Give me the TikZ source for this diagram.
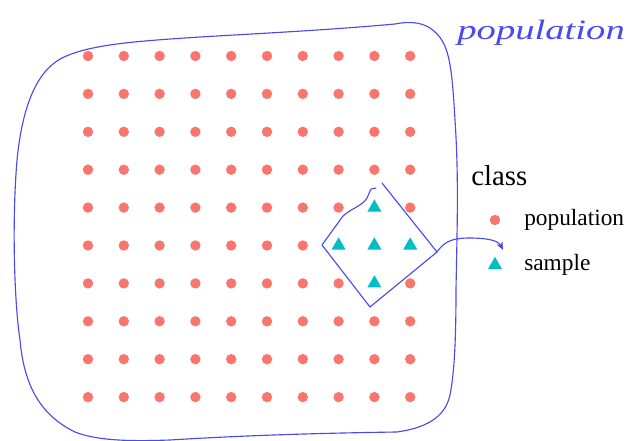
\documentclass[tikz,border=0pt]{standalone}
\usepackage{fontspec}
\setmainfont{Liberation Serif}
\usetikzlibrary{shapes.geometric,arrows.meta}
\definecolor{popred}{HTML}{F8766D}
\definecolor{samcyan}{HTML}{00BFC4}
\definecolor{ink}{HTML}{4A4AF0}
\begin{document}
\begin{tikzpicture}[x=0.75pt,y=-0.75pt,
  popdot/.style={circle,fill=popred,inner sep=0pt,minimum size=7.8pt},
  samtri/.style={regular polygon,regular polygon sides=3,fill=samcyan,inner sep=0pt,minimum size=12.2pt},
  pen/.style={draw=ink,line width=0.85pt,line cap=round,line join=round},
  legtext/.style={anchor=base west,inner sep=0pt,font=\fontsize{17.5}{20}\selectfont}]
\useasboundingbox (0,0) rectangle (636,441);
% population grid
\foreach \i in {1,...,10} {
  \foreach \j in {1,...,10} {
    \pgfmathsetmacro\xx{88+(\i-1)*35.8}
    \pgfmathsetmacro\yy{56+(\j-1)*37.9}
    \pgfmathtruncatemacro\skipit{((\i==9) && (\j>4) && (\j<8)) || ((\j==6) && ((\i==8) || (\i==10)))}
    \ifnum\skipit=0 \node[popdot] (d\i-\j) at (\xx,\yy) {};\fi
  }
}
% sample
\node[samtri] (s1) at (374.4,207.6) {};
\node[samtri] (s2) at (338.6,245.5) {};
\node[samtri] (s3) at (374.4,245.5) {};
\node[samtri] (s4) at (410.2,245.5) {};
\node[samtri] (s5) at (374.4,283.4) {};
% legend
\node[anchor=base west,inner sep=0pt,font=\fontsize{21.6}{24}\selectfont] (legtitle) at (471,186) {class};
\node[popdot] (legdot) at (495,220) {};
\node[legtext] (legpop) at (524,226) {population};
\node[samtri] (legtri) at (495,265) {};
\node[legtext] (legsam) at (524,271) {sample};
% hand-drawn outline of the population
\draw[pen] (395,24) .. controls (330,30) and (250,34) .. (200,37)
  .. controls (140,41) and (90,44) .. (62,58)
  .. controls (35,72) and (22,110) .. (17,160)
  .. controls (12,220) and (14,300) .. (20,340)
  .. controls (24,385) and (40,415) .. (75,432)
  .. controls (100,442) and (140,441) .. (170,440)
  .. controls (250,435) and (330,433) .. (397,432)
  .. controls (425,428) and (445,418) .. (450,395)
  .. controls (455,370) and (456,330) .. (456,290)
  .. controls (457,230) and (459,180) .. (455,120)
  .. controls (452,70) and (450,45) .. (435,32)
  .. controls (425,22) and (410,21) .. (395,24);
% hand-drawn outline of the sample
\coordinate (dtop) at (382,183);
\coordinate (dright) at (437,252);
\coordinate (dbot) at (370,307);
\coordinate (dleft) at (322,245);
\draw[pen] (dtop) -- (dright) -- (dbot) -- (dleft) -- (343,216)
  .. controls (352,208) and (362,206) .. (367,198) -- (371,189) -- (376,188);
% arrow to legend
\coordinate (arrend) at (503,250);
\draw[pen,-{Stealth[length=6pt,width=5pt]}] (dright) .. controls (445,240) and (455,238) .. (470,238)
  .. controls (485,238) and (498,240) .. (arrend);
% handwritten label
\node[anchor=base west,inner sep=0pt,text=ink,font=\fontsize{21}{24}\selectfont\itshape,xscale=1.38] (hand) at (457,40) {population};
\end{tikzpicture}
\end{document}
